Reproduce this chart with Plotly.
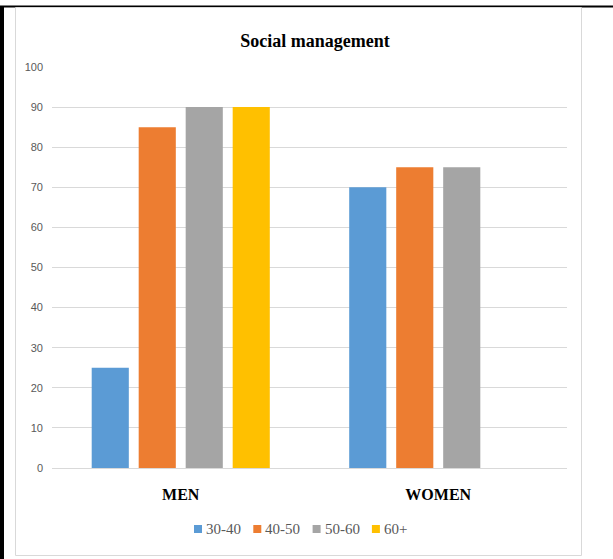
import plotly.graph_objects as go

# ---- data ----
categories = ["MEN", "WOMEN"]
series_names = ["30-40", "40-50", "50-60", "60+"]
series_colors = ["#5B9BD5", "#ED7D31", "#A5A5A5", "#FFC000"]
values_30_40 = [25, 70]
values_40_50 = [85, 75]
values_50_60 = [90, 75]
values_60p = [90, None]
y_ticks = [0, 10, 20, 30, 40, 50, 60, 70, 80, 90, 100]

series_values = [values_30_40, values_40_50, values_50_60, values_60p]

W, H = 613, 559
L, R, T, B = 52, 46, 67, 91
PW = W - L - R
PH = H - T - B


def px(x):
    return (x - L) / PW


def py(y):
    return (H - B - y) / PH


fig = go.Figure()
for name, color, vals in zip(series_names, series_colors, series_values):
    fig.add_trace(go.Bar(
        x=categories, y=vals, name=name,
        marker=dict(color=color, line=dict(width=0)),
        showlegend=False,
    ))

shapes = [
    # outer black frame pieces
    dict(type="line", xref="paper", yref="paper", x0=px(0), x1=px(W), y0=py(6.5), y1=py(6.5),
         line=dict(color="black", width=2)),
    dict(type="rect", xref="paper", yref="paper", x0=px(0), x1=px(4), y0=py(6), y1=py(H),
         fillcolor="black", line=dict(width=0)),
    # light gray chart-area border
    dict(type="rect", xref="paper", yref="paper", x0=px(15.5), x1=px(581.5), y0=py(7.5), y1=py(555.5),
         line=dict(color="#D9D9D9", width=1), fillcolor="rgba(0,0,0,0)"),
]
annotations = []

# custom legend
lx0 = 194
lstep = 59.3
ly = 529
for i, (name, color) in enumerate(zip(series_names, series_colors)):
    x0 = lx0 + lstep * i
    shapes.append(dict(type="rect", xref="paper", yref="paper",
                       x0=px(x0), x1=px(x0 + 8), y0=py(ly - 4), y1=py(ly + 4),
                       fillcolor=color, line=dict(width=0)))
    annotations.append(dict(text=name, xref="paper", yref="paper",
                            x=px(x0 + 10), y=py(ly), xanchor="left", yanchor="middle",
                            showarrow=False,
                            font=dict(family="Liberation Serif, Times New Roman, serif", size=15, color="#595959")))

fig.update_layout(
    width=W, height=H,
    margin=dict(l=L, r=R, t=T, b=B),
    paper_bgcolor="white", plot_bgcolor="white",
    barmode="group", bargap=0.27, bargroupgap=0.21,
    title=dict(text="<b>Social management</b>", x=315 / W, xanchor="center",
               y=1 - 41 / H, yanchor="middle", xref="container", yref="container",
               font=dict(family="Liberation Serif, Times New Roman, serif", size=18, color="black")),
    xaxis=dict(showline=False, showgrid=False, zeroline=False, ticks="",
               tickfont=dict(family="Liberation Serif, Times New Roman, serif", size=16, color="black"),
               ticklabelstandoff=15),
    yaxis=dict(range=[0, 100], tickvals=y_ticks, showline=False, showgrid=True,
               gridcolor="#D9D9D9", gridwidth=1, zeroline=True, zerolinecolor="#D9D9D9",
               zerolinewidth=1, ticks="",
               tickfont=dict(family="Liberation Sans, Arial, sans-serif", size=11,
                             color="#595959"),
               ticklabelstandoff=8),
    shapes=shapes,
    annotations=annotations,
    showlegend=False,
)
fig.update_xaxes(tickprefix="<b>", ticksuffix="</b>")

fig.write_html("out.html", config={"displayModeBar": False},
               post_script="document.body.style.margin='0px';")
